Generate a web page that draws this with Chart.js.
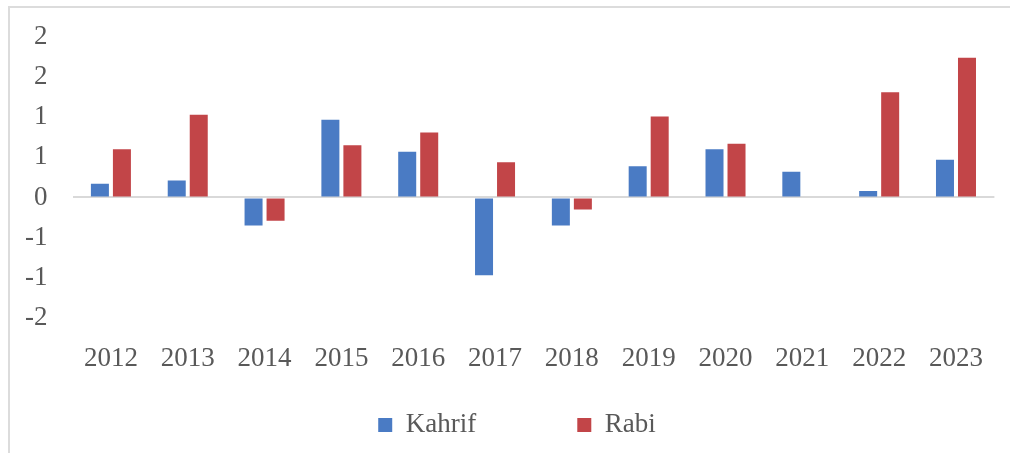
<!DOCTYPE html>
<html>
<head>
<meta charset="utf-8">
<script src="https://cdn.jsdelivr.net/npm/chart.js@4/dist/chart.umd.min.js"></script>
<style>
  html, body { margin: 0; padding: 0; background: #fff; }
  #wrap { position: relative; width: 1010px; height: 453px; overflow: hidden; }
  #frame {
    position: absolute; left: 8px; top: 6px; width: 1100px; height: 500px;
    border-left: 2px solid #dcdcdc; border-top: 2px solid #dcdcdc;
  }
  #chart { position: absolute; left: 0; top: 0; }
</style>
</head>
<body>
<div id="wrap">
  <div id="frame"></div>
  <canvas id="chart" width="1010" height="453"></canvas>
</div>
<script>
/*jslint browser:true, indent:2*/
/*globals Chart*/
'use strict';

var years = ['2012', '2013', '2014', '2015', '2016', '2017', '2018', '2019', '2020', '2021', '2022', '2023'];
var kahrif = [0.17, 0.21, -0.35, 0.97, 0.57, -0.97, -0.35, 0.39, 0.60, 0.32, 0.08, 0.47];
var rabi = [0.60, 1.03, -0.29, 0.65, 0.81, 0.44, -0.15, 1.01, 0.67, 0, 1.31, 1.74];

var textColor = '#595959';
var serif = '"Liberation Serif", "Times New Roman", serif';
var plotLeft = 72.5;
var padLeft = 24;

// excel style "0" format: round half away from zero
var fmt = function (v) {
  var r = Math.round(Math.abs(v));
  if (r === 0) {
    return '0';
  }
  return (v < 0 ? '-' : '') + r;
};

// trailing spaces widen the gap between the two legend entries
var spacer = new Array(11).join('\u00a0');

new Chart(document.getElementById('chart').getContext('2d'), {
  type: 'bar',
  data: {
    labels: years,
    datasets: [
      {
        label: 'Kahrif' + spacer,
        data: kahrif,
        backgroundColor: '#4A7BC4'
      },
      {
        label: 'Rabi',
        data: rabi,
        backgroundColor: '#C24548'
      }
    ]
  },
  options: {
    responsive: false,
    animation: false,
    layout: {
      padding: { left: padLeft, right: 0, top: 37, bottom: 4.6 }
    },
    datasets: {
      bar: {
        categoryPercentage: 0.573,
        barPercentage: 0.818
      }
    },
    scales: {
      x: {
        grid: { display: false, drawTicks: false },
        border: { display: false },
        ticks: {
          color: textColor,
          padding: 25,
          maxRotation: 0,
          font: { family: serif, size: 27 }
        },
        afterFit: function (scale) {
          scale.height = 60;
          scale.paddingLeft = 0;
          scale.paddingRight = 0;
        }
      },
      y: {
        min: -1.5,
        max: 2,
        grid: {
          drawTicks: false,
          color: function (ctx) {
            return ctx.tick && ctx.tick.value === 0 ? '#d9d9d9' : 'rgba(0,0,0,0)';
          },
          lineWidth: 2
        },
        border: { display: false },
        ticks: {
          stepSize: 0.5,
          color: textColor,
          padding: 25,
          font: { family: serif, size: 27 },
          callback: function (v) {
            return fmt(v);
          }
        },
        afterFit: function (scale) {
          scale.width = plotLeft - padLeft;
          scale.paddingTop = 0;
          scale.paddingBottom = 0;
        }
      },
      // empty right-hand strip, keeps the plot clear of the right edge
      yRight: {
        position: 'right',
        grid: { display: false, drawTicks: false },
        border: { display: false },
        ticks: { display: false },
        afterFit: function (scale) {
          scale.width = 15.6;
          scale.paddingTop = 0;
          scale.paddingBottom = 0;
        }
      }
    },
    plugins: {
      tooltip: { enabled: false },
      legend: {
        position: 'bottom',
        labels: {
          color: textColor,
          boxWidth: 14,
          boxHeight: 14,
          padding: 33.6,
          font: { family: serif, size: 27 }
        }
      }
    }
  }
});
</script>
</body>
</html>
